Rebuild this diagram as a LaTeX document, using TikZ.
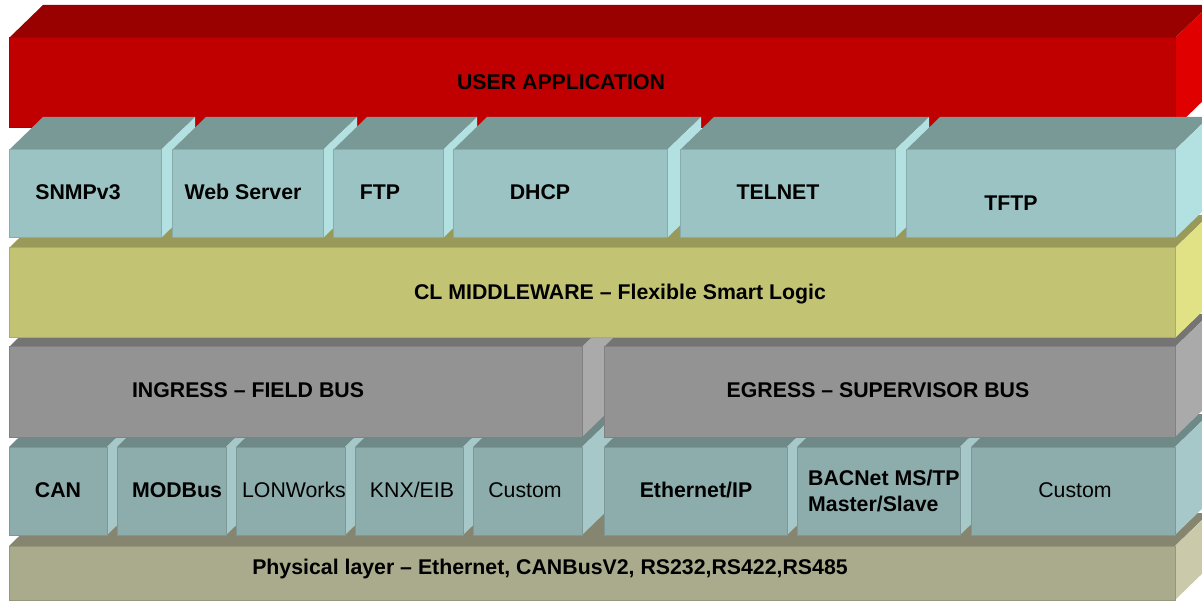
\documentclass[tikz,border=0pt]{standalone}
\usepackage{fontspec}
\setmainfont{Liberation Sans}

% face colours of each layer
\definecolor{appfront}{HTML}{C00000}
\definecolor{apptop}{HTML}{990000}
\definecolor{appside}{HTML}{E00000}
\definecolor{netfront}{HTML}{9BC3C3}
\definecolor{nettop}{HTML}{799996}
\definecolor{netside}{HTML}{B3E1E1}
\definecolor{midfront}{HTML}{C3C374}
\definecolor{midtop}{HTML}{999959}
\definecolor{midside}{HTML}{E1E185}
\definecolor{busfront}{HTML}{939393}
\definecolor{bustop}{HTML}{747474}
\definecolor{busside}{HTML}{AAAAAA}
\definecolor{fldfront}{HTML}{8DADAD}
\definecolor{fldtop}{HTML}{6F8989}
\definecolor{fldside}{HTML}{A6C8C8}
\definecolor{phyfront}{HTML}{AAAA8C}
\definecolor{phytop}{HTML}{858570}
\definecolor{physide}{HTML}{CACAAA}

\tikzset{
  lbl/.style={font=\bfseries\fontsize{21.3}{26}\selectfont, text=black, inner sep=0pt, align=center, text depth=0pt},
  lblthin/.style={font=\fontsize{21.3}{26}\selectfont, text=black, inner sep=0pt, text depth=0pt},
}

% a slab seen from above-front: #1,#2 = front top-left, #3,#4 = front bottom-right, #5 = colour prefix
\newcommand\slab[5]{%
  \fill[#5top] (#1,#2) -- ({#1+34},{#2-33}) -- ({#3+34},{#2-33}) -- (#3,#2) -- cycle;
  \fill[#5side] (#3,#2) -- ({#3+34},{#2-33}) -- ({#3+34},{#4-33}) -- (#3,#4) -- cycle;
  \filldraw[fill=#5front, draw=#5front!88!black, line width=1pt] (#1,#2) rectangle (#3,#4);
}

\begin{document}
\begin{tikzpicture}[x=1pt, y=-1pt]
  \useasboundingbox (0,0) rectangle (1202,601);
  \clip (0,0) rectangle (1202,601);

  % application layer
  \slab{9}{38}{1175}{128}{app}

  % physical layer
  \slab{9}{546}{1175}{600}{phy}

  % field / supervisor protocols
  \slab{9}{447}{107}{535}{fld}
  \slab{117}{447}{226}{535}{fld}
  \slab{236}{447}{345}{535}{fld}
  \slab{355}{447}{463}{535}{fld}
  \slab{473}{447}{582}{535}{fld}
  \slab{604}{447}{787}{535}{fld}
  \slab{797}{447}{960}{535}{fld}
  \slab{971}{447}{1175}{535}{fld}

  % bus layers
  \slab{9}{347}{582}{437}{bus}
  \slab{604}{347}{1175}{437}{bus}

  % middleware
  \slab{9}{248}{1175}{338}{mid}

  % network services
  \slab{9}{150}{161}{238}{net}
  \slab{172}{150}{323}{238}{net}
  \slab{333}{150}{443}{238}{net}
  \slab{453}{150}{667}{238}{net}
  \slab{680}{150}{895}{238}{net}
  \slab{906}{150}{1175}{238}{net}

  % labels
  \node[lbl] (app) at (561,82) {USER APPLICATION};

  \node[lbl] (snmp) at (78,192) {SNMPv3};
  \node[lbl] (web) at (243,192) {Web Server};
  \node[lbl] (ftp) at (380,192) {FTP};
  \node[lbl] (dhcp) at (540,192) {DHCP};
  \node[lbl] (telnet) at (778,192) {TELNET};
  \node[lbl] (tftp) at (1011,203) {TFTP};

  \node[lbl] (mid) at (620,292) {CL MIDDLEWARE -- Flexible Smart Logic};

  \node[lbl] (ingress) at (248,390) {INGRESS -- FIELD BUS};
  \node[lbl] (egress) at (878,390) {EGRESS -- SUPERVISOR BUS};

  \node[lbl] (can) at (58,490) {CAN};
  \node[lbl] (modbus) at (177,490) {MODBus};
  \node[lblthin] (lon) at (294,490) {LONWorks};
  \node[lblthin] (knx) at (412,490) {KNX/EIB};
  \node[lblthin] (custa) at (525,490) {Custom};
  \node[lbl] (eth) at (696,490) {Ethernet/IP};
  \node[lbl, align=left, anchor=west] (bacnet) at (808,491) {BACNet MS/TP\\Master/Slave};
  \node[lblthin] (custb) at (1075,490) {Custom};

  \node[lbl] (phy) at (550,567) {Physical layer -- Ethernet, CANBusV2, RS232,RS422,RS485};
\end{tikzpicture}
\end{document}
